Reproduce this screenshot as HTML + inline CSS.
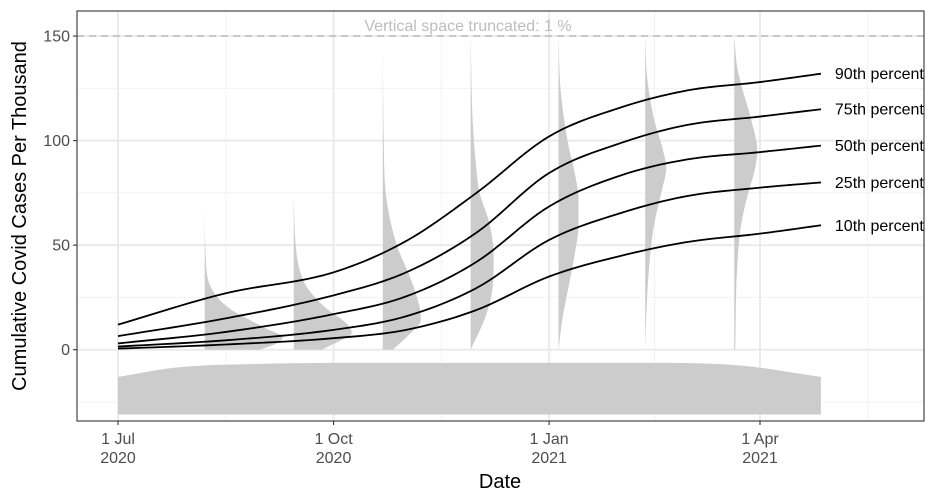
<!DOCTYPE html>
<html><head><meta charset="utf-8">
<style>
html,body{margin:0;padding:0;background:#fff;}
svg{display:block;font-family:"Liberation Sans",Arial,sans-serif;}
</style></head>
<body>
<svg id="chart" width="936" height="504" viewBox="0 0 936 504">
<defs><clipPath id="panelClip"><rect x="77" y="11" width="847" height="410"/></clipPath></defs>
<rect x="77" y="11" width="847" height="410" fill="#fff"/>
<g id="grid"></g>
<g id="marks" clip-path="url(#panelClip)"></g>
<rect x="77" y="11" width="847" height="410" fill="none" stroke="#333" stroke-width="1.1"/>
<g id="axes"></g>
<text x="500" y="488" text-anchor="middle" font-size="20" fill="#000">Date</text>
<text transform="translate(26,216) rotate(-90)" text-anchor="middle" font-size="20" fill="#000">Cumulative Covid Cases Per Thousand</text>
</svg>
<script>
// ---- data ----
const lineDays = [0, 46, 92, 123, 153, 184, 215, 243, 274, 300];
const p90 = [12, 27, 37, 52, 75, 102, 116, 124, 128, 132];
const p75 = [6.5, 15, 26, 37, 56, 84.5, 99, 107.5, 111.5, 115];
const p50 = [3, 8.5, 17, 25.5, 42, 68.5, 83.5, 91, 94.5, 97.6];
const p25 = [1.5, 4.5, 9.5, 16, 29.5, 52.5, 65.5, 73.5, 77.5, 80];
const p10 = [0.5, 2.5, 5.5, 9.5, 19, 35, 45, 51.5, 55.5, 59.5];
const seriesLabels = ["90th percentile","75th percentile","50th percentile","25th percentile","10th percentile"];
const yTicks = [0, 50, 100, 150];
const yMinor = [-25, 25, 75, 125];
const xTickDays = [0, 92, 184, 274];
const xTickLabels = [["1 Jul","2020"],["1 Oct","2020"],["1 Jan","2021"],["1 Apr","2021"]];
const xMinorDays = [46, 138, 229, 320];
const densityDays = [37, 75, 113, 150.5, 188, 225, 263];
const densityValues = [
 [68,45,30,20,15,10,6,3,0],
 [72,50,40,30,20,12,8,4,0],
 [142,100,75,50,35,20,14,8,0],
 [150,110,90,75,60,45,30,16,0],
 [150,125,100,85,72,60,45,30,15,0],
 [150,130,110,95,87,75,60,40,15,0],
 [150,135,125,110,95,85,75,60,40,0]
];
const densityWidths = [
 [0,1,6,24,42,62,78,72,55],
 [0,2,5,13,32,54,58,45,28],
 [0,1,3,14,27,37,38,28,10],
 [0,2,5,9,19,23,22,15,0],
 [0,2,9,16,20,20,16,10,4,0],
 [0,2,9,18,21,16,9,4,1,0],
 [0,3,8,17,23,20,14,7,3,1]
];
const bandDays = [0, 25, 60, 100, 230, 265, 300];
const bandTop = [-13, -8.5, -6.8, -6.3, -6.3, -7.5, -13];
const bandBottom = -31;
const truncValue = 150;

// ---- scales ----
const xScale = d => 118 + d * (642 / 274);
const yScale = v => 349.7 - v * 2.091;
const NS = "http://www.w3.org/2000/svg";
function mk(tag, attrs, parent){const e=document.createElementNS(NS,tag);for(const k in attrs)e.setAttribute(k,attrs[k]);parent.appendChild(e);return e;}
function monotone(xs, ys, n){
  const m=xs.length, d=[], t=new Array(m);
  for(let i=0;i<m-1;i++) d.push((ys[i+1]-ys[i])/(xs[i+1]-xs[i]));
  t[0]=d[0]; t[m-1]=d[m-2];
  for(let i=1;i<m-1;i++){ t[i]=(d[i-1]*d[i]<=0)?0:(d[i-1]+d[i])/2; }
  for(let i=0;i<m-1;i++){
    if(d[i]===0){t[i]=0;t[i+1]=0;continue;}
    const a=t[i]/d[i], b=t[i+1]/d[i], s=a*a+b*b;
    if(s>9){const k=3/Math.sqrt(s);t[i]=k*a*d[i];t[i+1]=k*b*d[i];}
  }
  const out=[];
  for(let i=0;i<m-1;i++){
    const h=xs[i+1]-xs[i];
    for(let j=0;j<n;j++){
      const u=j/n, h00=2*u*u*u-3*u*u+1, h10=u*u*u-2*u*u+u, h01=-2*u*u*u+3*u*u, h11=u*u*u-u*u;
      out.push([xs[i]+u*h, h00*ys[i]+h10*h*t[i]+h01*ys[i+1]+h11*h*t[i+1]]);
    }
  }
  out.push([xs[m-1],ys[m-1]]);
  return out;
}
const grid=document.getElementById("grid"), marks=document.getElementById("marks"), axes=document.getElementById("axes");

yMinor.forEach(v=>{const l=mk("line",{x1:77,x2:924,y1:yScale(v),y2:yScale(v),stroke:"#f2f2f2","stroke-width":1},grid);

});
xMinorDays.forEach(d=>{const l=mk("line",{x1:xScale(d),x2:xScale(d),y1:11,y2:421,stroke:"#f2f2f2","stroke-width":1},grid);

});
yTicks.forEach(v=>{const l=mk("line",{x1:77,x2:924,y1:yScale(v),y2:yScale(v),stroke:"#ebebeb","stroke-width":2},grid);

});
xTickDays.forEach(d=>{const l=mk("line",{x1:xScale(d),x2:xScale(d),y1:11,y2:421,stroke:"#ebebeb","stroke-width":2},grid);

});

{
  const top = monotone(bandDays, bandTop, 12).map(p=>[xScale(p[0]), yScale(p[1])]);
  let d = "M"+top.map(p=>p[0].toFixed(2)+","+p[1].toFixed(2)).join(" L");
  d += " L"+xScale(bandDays[bandDays.length-1])+","+yScale(bandBottom)+" L"+xScale(bandDays[0])+","+yScale(bandBottom)+" Z";
  const p = mk("path",{d:d,fill:"#cccccc"},marks);
  
  
}
densityDays.forEach((dd,k)=>{
  const x0 = xScale(dd);
  const vals = densityValues[k].slice().reverse(), wids = densityWidths[k].slice().reverse();
  const pts = monotone(vals, wids, 10).map(p=>[x0+Math.max(0,p[1]), yScale(p[0])]);
  let d = "M"+x0+","+yScale(vals[0])+" L"+pts.map(p=>p[0].toFixed(2)+","+p[1].toFixed(2)).join(" L");
  d += " L"+x0+","+yScale(vals[vals.length-1])+" Z";
  const p = mk("path",{d:d,fill:"#cccccc"},marks);
  
  
});
{
  const l = mk("line",{x1:77,x2:924,y1:yScale(truncValue),y2:yScale(truncValue),stroke:"#bdbdbd","stroke-width":1.5,"stroke-dasharray":"7,5"},marks);
  
  
  const t = mk("text",{x:468,y:yScale(truncValue)-5,"text-anchor":"middle","font-size":"16",fill:"#bdbdbd"},marks);
  t.textContent="Vertical space truncated: 1 %";
  
  
}
[p90,p75,p50,p25,p10].forEach((s,k)=>{
  const pts = monotone(lineDays, s, 12).map(p=>[xScale(p[0]), yScale(p[1])]);
  const p = mk("path",{d:"M"+pts.map(q=>q[0].toFixed(2)+","+q[1].toFixed(2)).join(" L"),fill:"none",stroke:"#000","stroke-width":1.8,"stroke-linejoin":"round"},marks);
  
  
  const t = mk("text",{x:xScale(lineDays[lineDays.length-1])+14,y:yScale(s[s.length-1])+5.5,"font-size":"16",fill:"#000"},marks);
  t.textContent=seriesLabels[k];
  
  
});
yTicks.forEach(v=>{
  const l=mk("line",{x1:73,x2:77,y1:yScale(v),y2:yScale(v),stroke:"#333","stroke-width":1.1},axes);
  
  
  const t=mk("text",{x:70,y:yScale(v)+5.5,"text-anchor":"end","font-size":"16",fill:"#4d4d4d"},axes);
  t.textContent=v;
  
  
});
xTickDays.forEach((d,i)=>{
  const l=mk("line",{x1:xScale(d),x2:xScale(d),y1:421,y2:425,stroke:"#333","stroke-width":1.1},axes);
  
  
  const t=mk("text",{x:xScale(d),y:444,"text-anchor":"middle","font-size":"16",fill:"#4d4d4d"},axes);
  t.textContent=xTickLabels[i][0];
  
  
  const t2=mk("text",{x:xScale(d),y:463,"text-anchor":"middle","font-size":"16",fill:"#4d4d4d"},axes);
  t2.textContent=xTickLabels[i][1];
  
  
});
</script>
</body></html>
